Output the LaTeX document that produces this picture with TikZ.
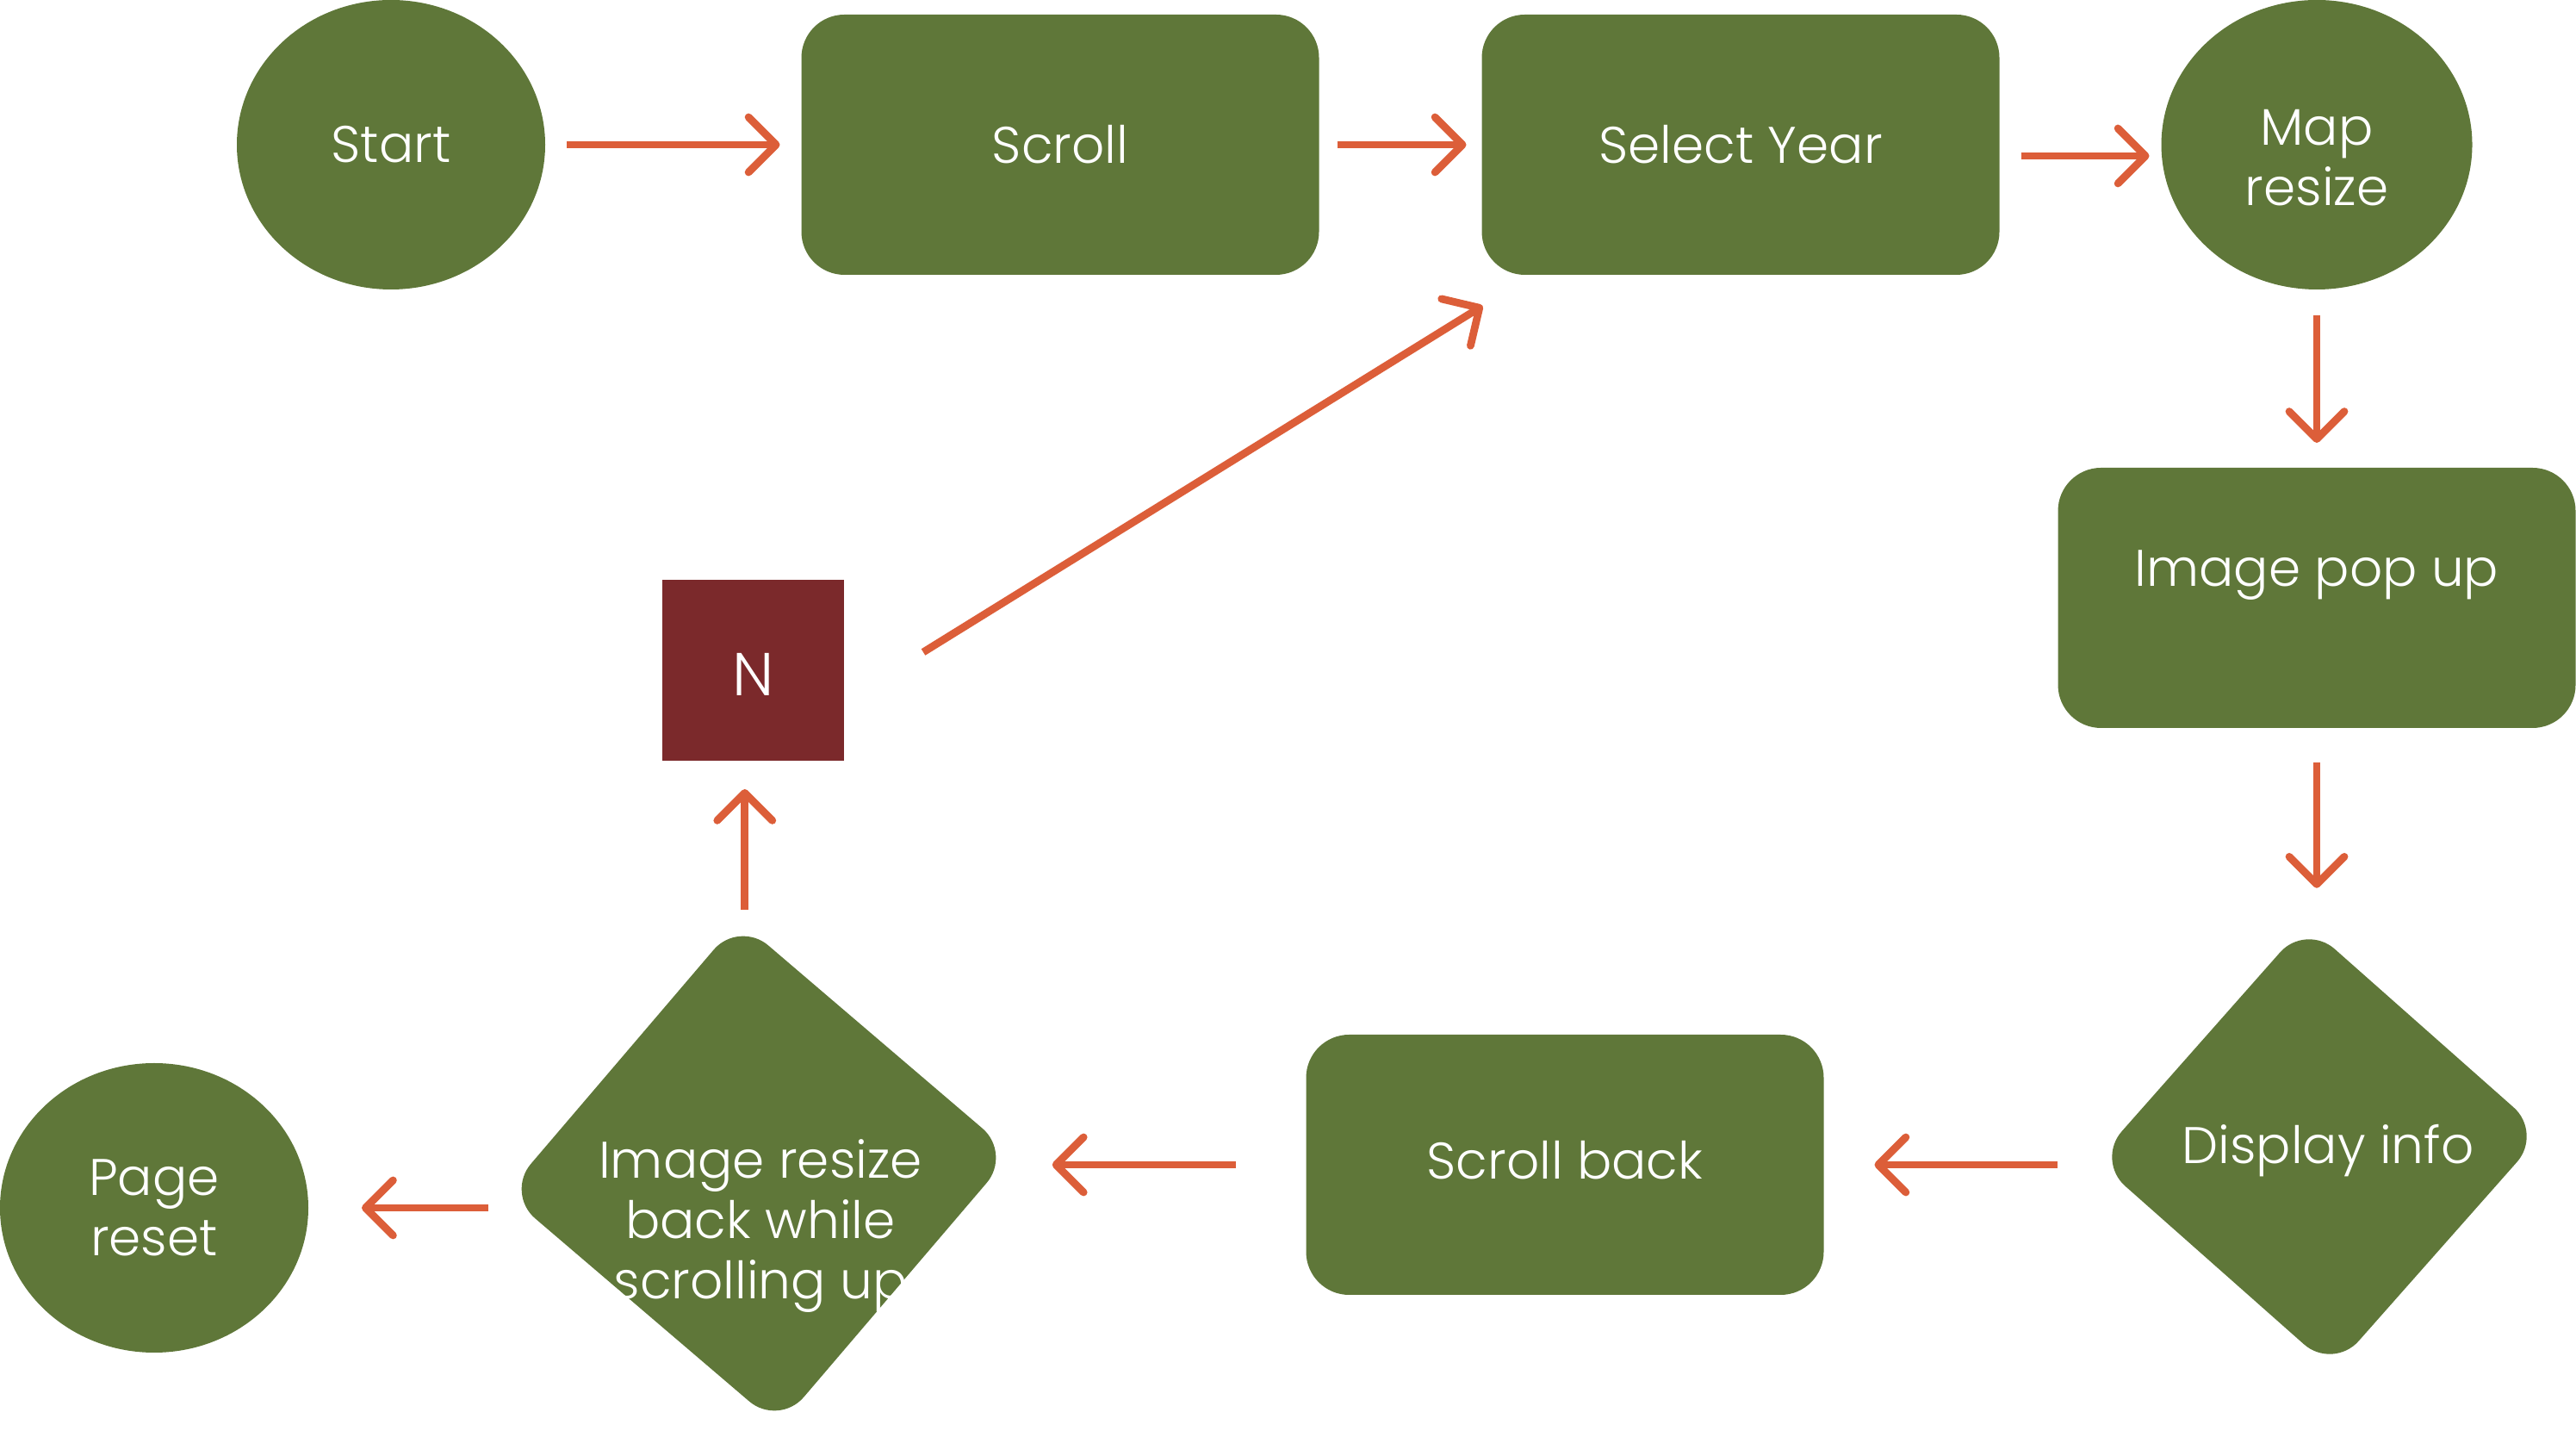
\documentclass[tikz,border=0pt]{standalone}
\usepackage{fontspec}
\setmainfont{Poppins Light}
\usetikzlibrary{shapes.geometric, arrows.meta, calc}

\definecolor{leaf}{HTML}{5F7739}
\definecolor{rust}{HTML}{DC5E39}
\definecolor{wine}{HTML}{7B292B}

\begin{document}
\begin{tikzpicture}[
    font=\fontsize{17}{19.9}\selectfont,
    oval/.style={ellipse, fill=leaf, text=white, align=center, inner sep=0pt,
                 minimum width=3.58cm, minimum height=3.36cm, outer sep=0.25cm},
    card/.style={rectangle, rounded corners=0.5cm, fill=leaf, text=white,
                 minimum width=6.01cm, minimum height=3.02cm, outer sep=0.25cm},
    decision/.style={diamond, aspect=1, rounded corners=0.45cm, fill=leaf, inner sep=0pt},
    wtext/.style={text=white, align=center},
    flow/.style={rust, line width=2.5pt,
                 -{Straight Barb[length=0.32cm, width=0.64cm, line cap=round, line join=round]}}
]

% Fix the page size
\useasboundingbox (0,0) rectangle (29.91,16.6);

% Top row
\node[oval] (start) at (4.54,14.92) {Start};
\node[card] (scroll) at (12.31,14.92) {Scroll};
\node[card] (year) at (20.21,14.92) {Select Year};
\node[oval, minimum width=3.61cm, text height=1.42cm] (map) at (26.90,14.92) {Map\\resize};

% Right column
\node[card, text depth=0.69cm] (pop) at (26.90,9.66) {Image pop up};
\node[decision, minimum size=5.2cm, rotate=3.5] (disp) at (26.93,3.29) {};
\node[wtext] (disptext) at (27.03,3.24) {Display info};

% Bottom row
\node[card, text depth=0.12cm] (back) at (18.17,3.08) {Scroll back};
\node[decision, minimum size=5.9cm, rotate=4.5] (resize) at (8.81,2.98) {};
\node[wtext] (resizetext) at (8.83,2.37) {Image resize\\back while\\scrolling up};
\node[oval] (page) at (1.79,2.58) {Page\\reset};

% The N box
\node[fill=wine, text=white, font=\fontsize{20}{24}\selectfont, text height=0.60cm,
      minimum width=2.11cm, minimum height=2.10cm, inner sep=0pt, outer sep=0.25cm] (nbox) at (8.745,8.82) {N};

% Arrows along the top
\draw[flow] (start) -- (scroll);
\draw[flow, shorten <=-0.04cm, shorten >=-0.07cm] (scroll) -- (year);
\draw[flow] ([yshift=-0.13cm]year.east) -- ([xshift=0.11cm, yshift=-0.13cm]map.west);

% Arrows down the right side
\draw[flow, shorten <=0.05cm, shorten >=0.04cm] (map) -- (pop);
\draw[flow, shorten <=0.15cm, shorten >=0.40cm] (pop) -- (pop |- disp.north);

% Arrows along the bottom
\draw[flow, shorten <=0.44cm, shorten >=0.34cm] (back -| disp.west) -- (back);
\draw[flow, shorten <=0.57cm, shorten >=0.46cm] (back) -- (back -| resize.east);
\draw[flow, shorten <=0.19cm, shorten >=0.37cm] (page -| resize.west) -- (page);

% Loop back through N
\draw[flow, shorten <=0.11cm, shorten >=0.08cm] ([xshift=0.07cm]resize.north) -- ([xshift=0.07cm]resize.north |- nbox.south);
\draw[flow] ([shift={(0.67,0.21)}]nbox.east) -- ([shift={(0.26,-0.11)}]year.south west);

\end{tikzpicture}
\end{document}
